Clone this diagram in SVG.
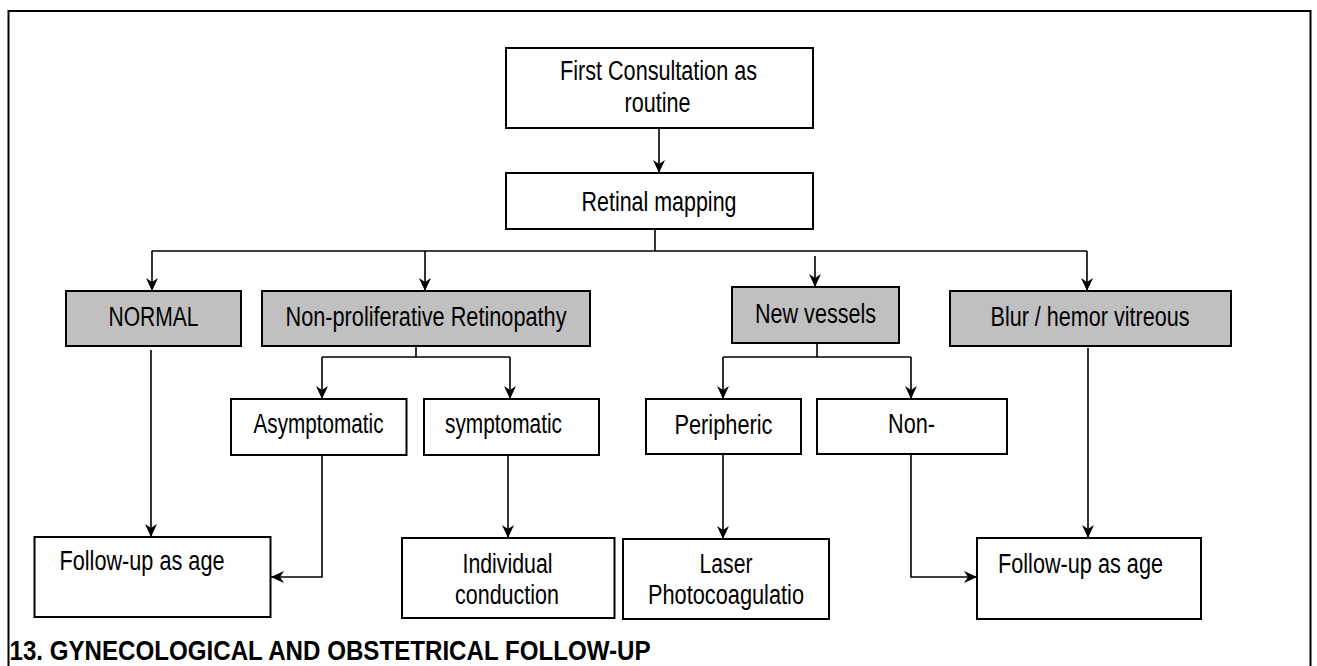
<svg xmlns="http://www.w3.org/2000/svg" width="1317" height="666" viewBox="0 0 1317 666">
  <style>
    .box { fill: #ffffff; stroke: #000000; stroke-width: 2; }
    .grey { fill: #c0c0c0; stroke: #000000; stroke-width: 2; }
    .lbl { font-family: "Liberation Sans Narrow", "Liberation Sans", Arial, sans-serif; font-size: 27px; fill: #000000; }
    .c { text-anchor: middle; }
    .wire { fill: none; stroke: #000000; stroke-width: 1.6; }
    .arr { marker-end: url(#head); }
    .title { font-family: "Liberation Sans Narrow", "Liberation Sans", Arial, sans-serif; font-size: 27px; font-weight: bold; fill: #000000; }
  </style>
  <defs>
    <marker id="head" markerUnits="userSpaceOnUse" markerWidth="13" markerHeight="12" viewBox="0 0 13 12" refX="13" refY="6" orient="auto">
      <path d="M0,0 L13,6 L0,12 L4,6 z" fill="#000000"/>
    </marker>
  </defs>

  <rect width="1317" height="666" fill="#ffffff"/>
  <!-- page frame; its lower edge runs on past the sheet -->
  <rect x="8.5" y="11" width="1302" height="670" fill="none" stroke="#000000" stroke-width="2"/>

  <g id="connectors">
    <line class="wire arr" x1="659" y1="128" x2="659" y2="173"/>
    <polyline class="wire" points="655,229 655,251"/>
    <line class="wire" x1="151.5" y1="251" x2="1087" y2="251"/>
    <line class="wire arr" x1="152" y1="251" x2="152" y2="291"/>
    <line class="wire arr" x1="425" y1="251" x2="425" y2="291"/>
    <line class="wire arr" x1="815" y1="256" x2="815" y2="287"/>
    <line class="wire arr" x1="1087" y1="251" x2="1087" y2="291"/>

    <line class="wire" x1="416" y1="346" x2="416" y2="357"/>
    <line class="wire" x1="322" y1="357" x2="510" y2="357"/>
    <line class="wire arr" x1="322" y1="357" x2="322" y2="399"/>
    <line class="wire arr" x1="510" y1="357" x2="510" y2="399"/>

    <line class="wire" x1="817" y1="343" x2="817" y2="357"/>
    <line class="wire" x1="723" y1="357" x2="911" y2="357"/>
    <line class="wire arr" x1="723" y1="357" x2="723" y2="399"/>
    <line class="wire arr" x1="911" y1="357" x2="911" y2="399"/>

    <line class="wire arr" x1="151" y1="350" x2="151" y2="537"/>
    <polyline class="wire arr" points="322,455 322,577 271,577"/>
    <line class="wire arr" x1="508" y1="455" x2="508" y2="538"/>
    <line class="wire arr" x1="723" y1="454" x2="723" y2="539"/>
    <polyline class="wire arr" points="911,454 911,577 977,577"/>
    <line class="wire arr" x1="1088" y1="348" x2="1088" y2="538"/>
  </g>

  <g id="first-consultation">
    <rect class="box" x="506" y="48" width="307" height="80"/>
    <text class="lbl c" x="658.5" y="80" textLength="197" lengthAdjust="spacingAndGlyphs">First Consultation as</text>
    <text class="lbl c" x="657.5" y="112" textLength="66" lengthAdjust="spacingAndGlyphs">routine</text>
  </g>

  <g id="retinal-mapping">
    <rect class="box" x="506" y="173" width="307" height="56"/>
    <text class="lbl c" x="659" y="211" textLength="155" lengthAdjust="spacingAndGlyphs">Retinal mapping</text>
  </g>

  <g id="normal">
    <rect class="grey" x="66" y="291" width="175" height="55"/>
    <text class="lbl c" x="153.5" y="326" textLength="90" lengthAdjust="spacingAndGlyphs">NORMAL</text>
  </g>

  <g id="non-proliferative">
    <rect class="grey" x="262" y="291" width="328" height="55"/>
    <text class="lbl c" x="426" y="326" textLength="281" lengthAdjust="spacingAndGlyphs">Non-proliferative Retinopathy</text>
  </g>

  <g id="new-vessels">
    <rect class="grey" x="732" y="287" width="167" height="56"/>
    <text class="lbl c" x="815.5" y="322.5" textLength="121" lengthAdjust="spacingAndGlyphs">New vessels</text>
  </g>

  <g id="blur-hemor">
    <rect class="grey" x="950" y="291" width="281" height="55"/>
    <text class="lbl c" x="1090" y="326" textLength="199" lengthAdjust="spacingAndGlyphs">Blur / hemor vitreous</text>
  </g>

  <g id="asymptomatic">
    <rect class="box" x="231" y="399" width="175.5" height="56"/>
    <text class="lbl c" x="318.5" y="433" textLength="130" lengthAdjust="spacingAndGlyphs">Asymptomatic</text>
  </g>

  <g id="symptomatic">
    <rect class="box" x="424" y="399" width="175" height="56"/>
    <text class="lbl c" x="503.5" y="433" textLength="117" lengthAdjust="spacingAndGlyphs">symptomatic</text>
  </g>

  <g id="peripheric">
    <rect class="box" x="646" y="399" width="155" height="55"/>
    <text class="lbl c" x="723.5" y="433.5" textLength="98" lengthAdjust="spacingAndGlyphs">Peripheric</text>
  </g>

  <g id="non-peripheric">
    <rect class="box" x="817" y="399" width="190" height="55"/>
    <text class="lbl c" x="911.5" y="433" textLength="47" lengthAdjust="spacingAndGlyphs">Non-</text>
  </g>

  <g id="follow-up-left">
    <rect class="box" x="34.5" y="537" width="236" height="80"/>
    <text class="lbl" x="59.5" y="570" textLength="165" lengthAdjust="spacingAndGlyphs">Follow-up as age</text>
  </g>

  <g id="individual-conduction">
    <rect class="box" x="402" y="538" width="212.5" height="80"/>
    <text class="lbl c" x="507.5" y="573" textLength="90" lengthAdjust="spacingAndGlyphs">Individual</text>
    <text class="lbl c" x="507" y="604" textLength="104" lengthAdjust="spacingAndGlyphs">conduction</text>
  </g>

  <g id="laser">
    <rect class="box" x="623" y="539" width="206" height="80"/>
    <text class="lbl c" x="726" y="573" textLength="53" lengthAdjust="spacingAndGlyphs">Laser</text>
    <text class="lbl c" x="726" y="604" textLength="156" lengthAdjust="spacingAndGlyphs">Photocoagulatio</text>
  </g>

  <g id="follow-up-right">
    <rect class="box" x="977" y="538" width="224" height="81"/>
    <text class="lbl" x="998" y="573" textLength="165" lengthAdjust="spacingAndGlyphs">Follow-up as age</text>
  </g>

  <text class="title" x="9.5" y="660" textLength="641" lengthAdjust="spacingAndGlyphs">13. GYNECOLOGICAL AND OBSTETRICAL FOLLOW-UP</text>
</svg>
